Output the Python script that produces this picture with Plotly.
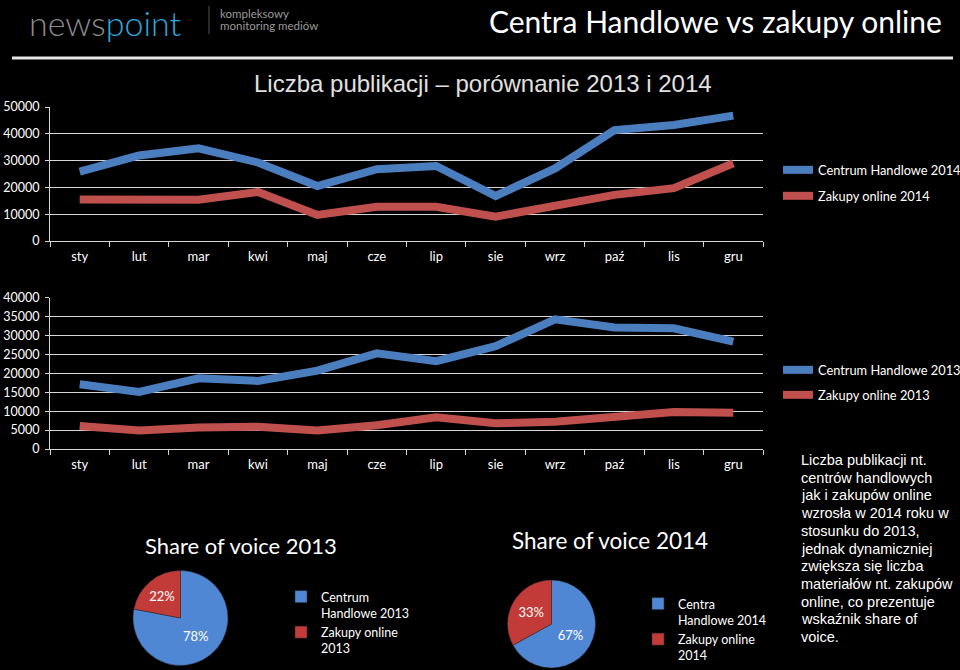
import plotly.graph_objects as go

W, H = 960, 670

months = ["sty", "lut", "mar", "kwi", "maj", "cze", "lip", "sie", "wrz", "paź", "lis", "gru"]

ch_2014 = [25900, 31900, 34600, 29300, 20500, 26800, 28000, 16800, 27100, 41400, 43300, 46800]
zo_2014 = [15500, 15300, 15400, 18300, 9700, 12800, 12800, 9100, 12800, 17200, 19700, 29000]

ch_2013 = [17100, 15100, 18700, 18000, 20700, 25300, 23200, 27200, 34300, 32100, 31900, 28400]
zo_2013 = [6100, 4900, 5700, 5900, 4900, 6300, 8400, 6800, 7200, 8500, 9800, 9600]

pie13_labels = ["Centrum<br>Handlowe 2013", "Zakupy online<br>2013"]
pie13_values = [78, 22]
pie14_labels = ["Centra<br>Handlowe 2014", "Zakupy online<br>2014"]
pie14_values = [67, 33]

text_lines = [
    "Liczba publikacji nt.",
    "centrów handlowych",
    "jak i zakupów online",
    "wzrosła w 2014 roku w",
    "stosunku do 2013,",
    "jednak dynamiczniej",
    "zwiększa się liczba",
    "materiałów nt. zakupów",
    "online, co prezentuje",
    "wskaźnik share of",
    "voice.",
]

BLUE = "#4a7ebf"
RED = "#c0504d"
PIE_BLUE = "#4f87d4"
PIE_RED = "#c33b38"
GRID = "#d6d6d6"
CAL = "Lato"


def fx(p):
    return p / W


def fy(p):
    return 1 - p / H


fig = go.Figure()

# Top chart 2014
fig.add_trace(go.Scatter(x=months, y=ch_2014, mode="lines", name="Centrum Handlowe 2014",
                         line=dict(color=BLUE, width=8), xaxis="x", yaxis="y", legend="legend"))
fig.add_trace(go.Scatter(x=months, y=zo_2014, mode="lines", name="Zakupy online 2014",
                         line=dict(color=RED, width=8), xaxis="x", yaxis="y", legend="legend2"))
# Bottom chart 2013
fig.add_trace(go.Scatter(x=months, y=ch_2013, mode="lines", name="Centrum Handlowe 2013",
                         line=dict(color=BLUE, width=8), xaxis="x2", yaxis="y2", legend="legend3"))
fig.add_trace(go.Scatter(x=months, y=zo_2013, mode="lines", name="Zakupy online 2013",
                         line=dict(color=RED, width=8), xaxis="x2", yaxis="y2", legend="legend4"))

pie_common = dict(sort=False, direction="clockwise", rotation=0,
                  textinfo="percent", texttemplate="%{percent:.0%}",
                  textposition="inside", insidetextorientation="horizontal",
                  textfont=dict(family=CAL, size=13, color="white"),
                  marker=dict(colors=[PIE_BLUE, PIE_RED], line=dict(color="#2b2b2b", width=0.5)))

fig.add_trace(go.Pie(labels=pie13_labels, values=pie13_values,
                     domain=dict(x=[fx(133), fx(228)], y=[fy(666), fy(570)]),
                     legend="legend5", **pie_common))
fig.add_trace(go.Pie(labels=pie14_labels, values=pie14_values,
                     domain=dict(x=[fx(507), fx(596)], y=[fy(668), fy(580)]),
                     legend="legend6", **pie_common))

xaxis_common = dict(type="category", tickson="boundaries", ticks="outside", ticklen=5,
                    tickcolor=GRID, showline=True, linecolor=GRID, linewidth=1,
                    showgrid=False, zeroline=False, ticklabelstandoff=3, automargin=False,
                    tickfont=dict(family=CAL, size=13, color="white"),
                    range=[-0.5, 11.5], fixedrange=True)
yaxis_common = dict(showgrid=True, gridcolor=GRID, gridwidth=1, showline=True,
                    linecolor=GRID, linewidth=1, zeroline=False, ticks="outside",
                    ticklen=4, tickcolor=GRID, ticklabelstandoff=3, tickformat="d",
                    automargin=False,
                    tickfont=dict(family=CAL, size=12.5, color="white"), fixedrange=True)

legend_common = dict(bgcolor="rgba(0,0,0,0)", borderwidth=0,
                     font=dict(family=CAL, size=12.8, color="white"),
                     xanchor="left", yanchor="middle", orientation="v")

fig.update_layout(
    width=W, height=H,
    margin=dict(l=0, r=0, t=0, b=0, autoexpand=False),
    paper_bgcolor="black", plot_bgcolor="black",
    showlegend=True,
    xaxis=dict(domain=[fx(50), fx(763)], anchor="y", **xaxis_common),
    yaxis=dict(domain=[fy(241), fy(107)], anchor="x", range=[0, 50000], dtick=10000,
               **yaxis_common),
    xaxis2=dict(domain=[fx(50), fx(763)], anchor="y2", **xaxis_common),
    yaxis2=dict(domain=[fy(449), fy(297.7)], anchor="x2", range=[0, 40000], dtick=5000,
                **yaxis_common),
    legend=dict(x=fx(778), y=fy(170), **legend_common),
    legend2=dict(x=fx(778), y=fy(196), **legend_common),
    legend3=dict(x=fx(778), y=fy(370), **legend_common),
    legend4=dict(x=fx(778), y=fy(395), **legend_common),
    legend5=dict(x=fx(281), y=fy(582), bgcolor="rgba(0,0,0,0)", xanchor="left", yanchor="top",
                 valign="top", tracegroupgap=0,
                 font=dict(family=CAL, size=12.5, color="white")),
    legend6=dict(x=fx(638), y=fy(589), bgcolor="rgba(0,0,0,0)", xanchor="left", yanchor="top",
                 valign="top", tracegroupgap=0,
                 font=dict(family=CAL, size=12.5, color="white")),
)

ann = []
# Header logo
ann.append(dict(x=fx(27), y=fy(23), xref="paper", yref="paper", xanchor="left", yanchor="middle",
                showarrow=False,
                text="<span style='color:#8c8c8c'>news</span><span style='color:#2ea6de'>point</span>",
                font=dict(family="Lato", size=34, weight=300, color="#8c8c8c")))
ann.append(dict(x=fx(218), y=fy(13), xref="paper", yref="paper", xanchor="left", yanchor="middle",
                showarrow=False, text="kompleksowy",
                font=dict(family="Lato", size=11.5, color="#9a9a9a")))
ann.append(dict(x=fx(218), y=fy(26), xref="paper", yref="paper", xanchor="left", yanchor="middle",
                showarrow=False, text="monitoring mediów",
                font=dict(family="Lato", size=11.5, color="#9a9a9a")))
# Page title
ann.append(dict(x=fx(944), y=fy(21), xref="paper", yref="paper", xanchor="right", yanchor="middle",
                showarrow=False, text="Centra Handlowe vs zakupy online",
                font=dict(family=CAL, size=30, color="white")))
# Chart title
ann.append(dict(x=fx(483), y=fy(83), xref="paper", yref="paper", xanchor="center", yanchor="middle",
                showarrow=False, text="Liczba publikacji – porównanie 2013 i 2014",
                font=dict(family="Liberation Sans", size=24, color="#e0e0e0")))
# Pie titles
ann.append(dict(x=fx(241), y=fy(545), xref="paper", yref="paper", xanchor="center", yanchor="middle",
                showarrow=False, text="Share of voice 2013",
                font=dict(family=CAL, size=22, color="white")))
ann.append(dict(x=fx(610), y=fy(540), xref="paper", yref="paper", xanchor="center", yanchor="middle",
                showarrow=False, text="Share of voice 2014",
                font=dict(family=CAL, size=22.5, color="white")))
# Paragraph
for i, line in enumerate(text_lines):
    ann.append(dict(x=fx(799), y=fy(460 + i * 17.7), xref="paper", yref="paper",
                    xanchor="left", yanchor="middle", showarrow=False, text=line,
                    font=dict(family="Liberation Sans", size=14.5, color="white")))

fig.update_layout(annotations=ann)

fig.update_layout(shapes=[
    dict(type="line", xref="paper", yref="paper", x0=fx(12), x1=fx(953), y0=fy(58), y1=fy(58),
         line=dict(color="#e6e6e6", width=3)),
    dict(type="line", xref="paper", yref="paper", x0=fx(209), x1=fx(209), y0=fy(6), y1=fy(34),
         line=dict(color="#555555", width=1)),
])

fig.write_html("out.html", config={"displayModeBar": False, "staticPlot": True},
               post_script="document.body.style.margin='0';")
